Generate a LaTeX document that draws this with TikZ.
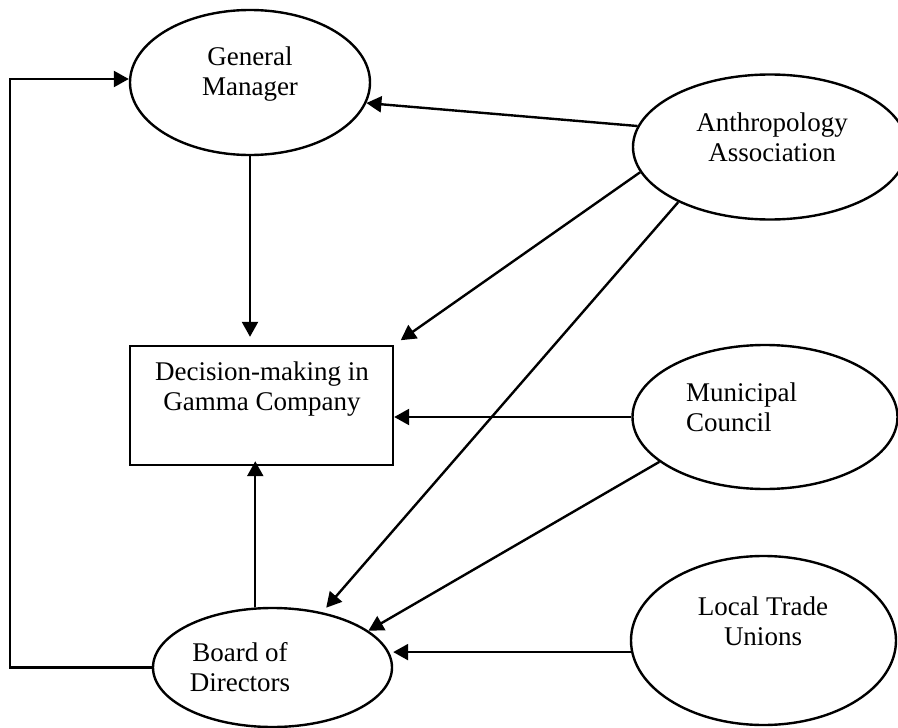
\documentclass[tikz,border=0pt]{standalone}
\usepackage{fontspec}
\setmainfont{Liberation Serif}
\usetikzlibrary{shapes.geometric,arrows.meta}

\tikzset{
  oval/.style={draw, ellipse, line width=2.4pt, inner sep=0pt},
  box/.style={draw, rectangle, line width=2.4pt, inner sep=0pt},
  lbl/.style={font=\fontsize{27}{30}\selectfont, align=center, inner sep=0pt},
  link/.style={line width=2.4pt, -{Triangle[length=15pt,width=16pt]}},
}

\begin{document}
\begin{tikzpicture}[x=1pt, y=-1pt]
\useasboundingbox (0,0) rectangle (898,728);

% shapes
\node[oval, minimum width=240pt, minimum height=145pt] (gm) at (250,82.5) {};
\node[oval, minimum width=274pt, minimum height=145pt] (anthro) at (770,147) {};
\node[box, minimum width=263pt, minimum height=119pt] (dm) at (261.5,405.5) {};
\node[oval, minimum width=265pt, minimum height=144pt] (muni) at (765,417) {};
\node[oval, minimum width=265pt, minimum height=169pt] (ltu) at (763.5,640.5) {};
\node[oval, minimum width=239pt, minimum height=119pt] (board) at (272.5,667.5) {};

% labels
\node[lbl] (gmtext) at (250,74) {General\\Manager};
\node[lbl] (anthrotext) at (772,137) {Anthropology\\Association};
\node[lbl] (dmtext) at (262,389) {Decision-making in\\Gamma Company};
\node[lbl, align=left, anchor=west] (munitext) at (686,407) {Municipal\\Council};
\node[lbl] (ltutext) at (763,621) {Local Trade\\Unions};
\node[lbl] (boardtext) at (240,667) {Board of\\Directors};

% feedback loop from the board back to the general manager
\coordinate (c1) at (10,667.5);
\coordinate (c2) at (10,79);
\draw[link] (board.west) -- (c1) -- (c2) -- (c2 -| gm.west);

% influences
\draw[link] (anthro.171) -- (gm.-10);
\draw[link, shorten >=8pt] (gm.south) -- (gm.south |- dm.north);
\draw[link, shorten >=8pt] (anthro.191) -- (dm.north east);
\draw[link, shorten >=6pt] (anthro.211) -- (board.48);
\draw[link] (muni.west) -- (muni.west -| dm.east);
\draw[link] (muni.203) -- (board.21);
\draw[link] (ltu.185) -- (ltu.185 -| board.east);
\draw[link, shorten >=-5pt] (board.106) -- (board.106 |- dm.south);
\end{tikzpicture}
\end{document}
